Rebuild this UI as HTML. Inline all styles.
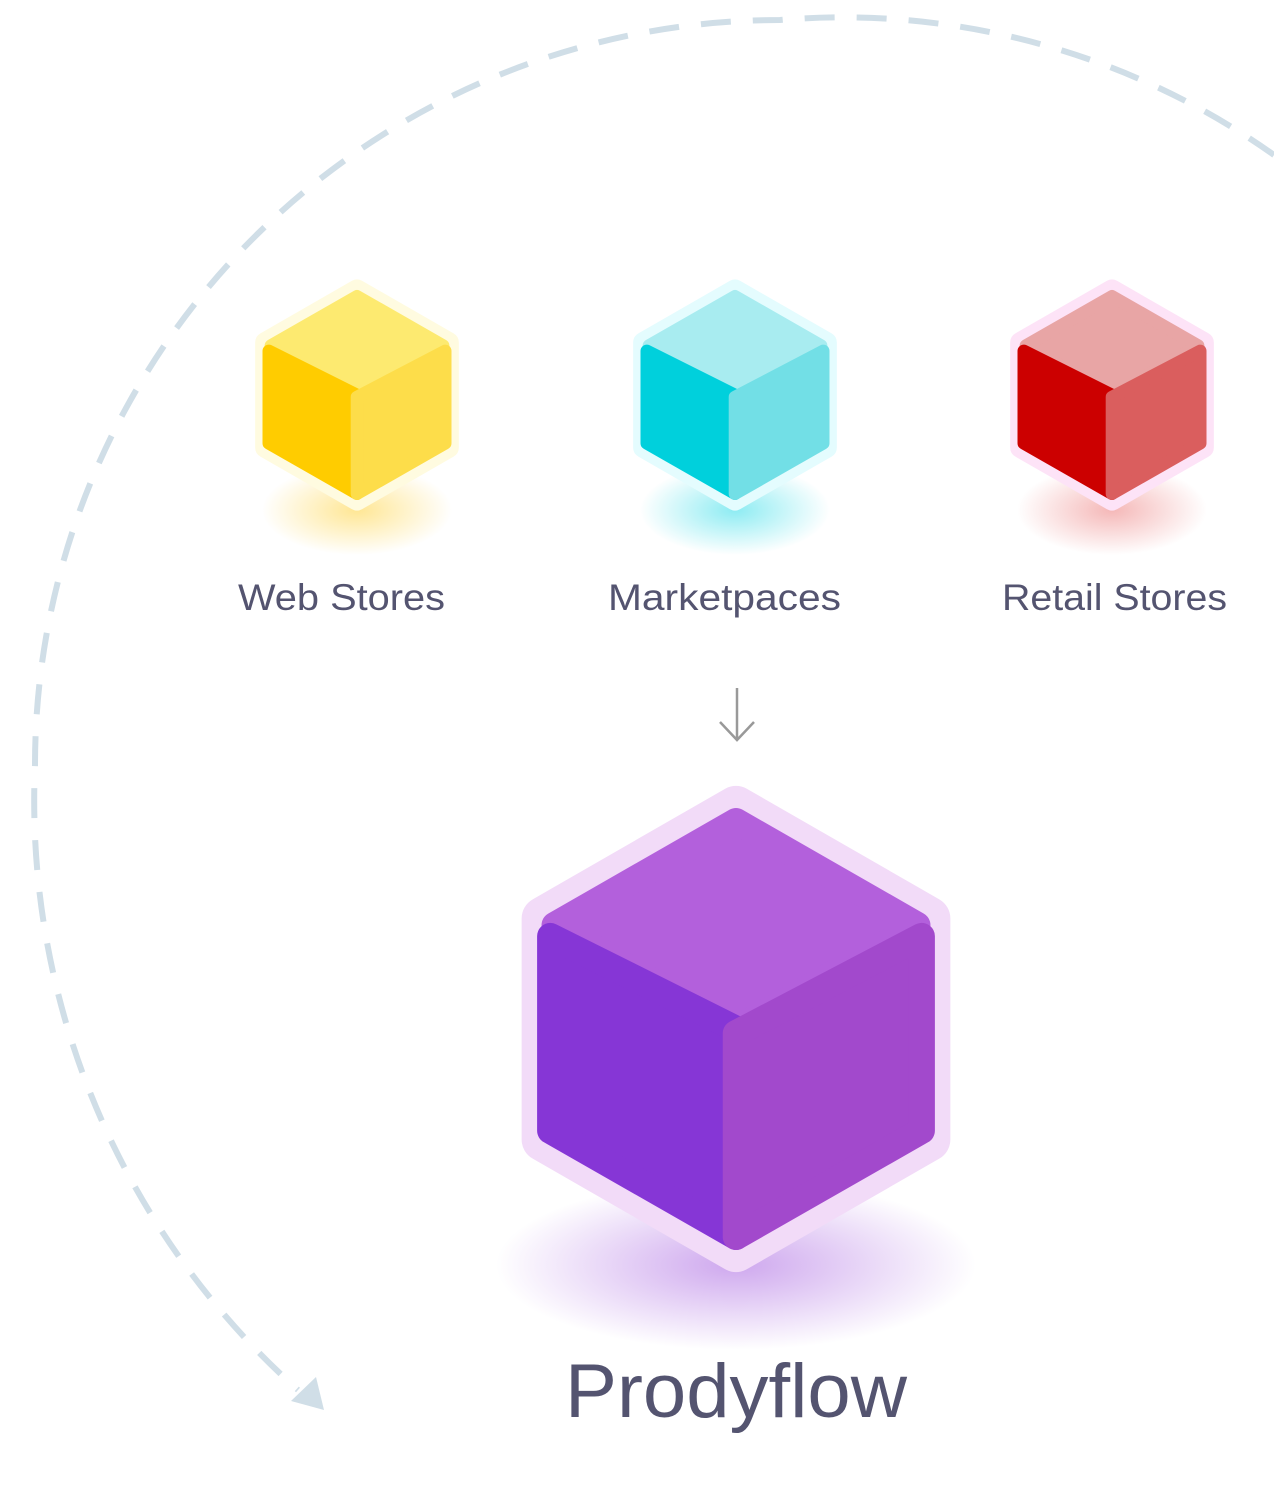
<!DOCTYPE html>
<html><head><meta charset="utf-8"><style>
html,body{margin:0;padding:0;background:#fff;}
svg{display:block;}
text{font-family:"Liberation Sans",sans-serif;fill:#545470;}
</style></head><body>
<svg width="1274" height="1492" viewBox="0 0 1274 1492" xmlns="http://www.w3.org/2000/svg">
<defs>
<radialGradient id="gy"><stop offset="0" stop-color="#ffd23c" stop-opacity="0.55"/><stop offset="1" stop-color="#ffd23c" stop-opacity="0"/></radialGradient>
<radialGradient id="gc"><stop offset="0" stop-color="#30dce8" stop-opacity="0.55"/><stop offset="1" stop-color="#30dce8" stop-opacity="0"/></radialGradient>
<radialGradient id="gr"><stop offset="0" stop-color="#e86060" stop-opacity="0.45"/><stop offset="1" stop-color="#e86060" stop-opacity="0"/></radialGradient>
<radialGradient id="gp"><stop offset="0" stop-color="#a660e0" stop-opacity="0.55"/><stop offset="1" stop-color="#a660e0" stop-opacity="0"/></radialGradient>
</defs>
<path d="M1274,155 A745 745 0 0 0 780 20 A745 745 0 0 0 35 765 A790 790 0 0 0 298 1390" fill="none" stroke="#d0dee7" stroke-width="6" stroke-dasharray="30 22"/>
<polygon points="291,1401 324,1410 316,1377" fill="#d0dee7"/>

<ellipse cx="357" cy="510" rx="95" ry="45" fill="url(#gy)"/>
<ellipse cx="735" cy="510" rx="95" ry="45" fill="url(#gc)"/>
<ellipse cx="1112" cy="510" rx="95" ry="45" fill="url(#gr)"/>
<ellipse cx="736" cy="1265" rx="240" ry="85" fill="url(#gp)"/>

<g transform="translate(357,395) scale(1.05)">
<polygon points="0,-100 87,-50 87,50 0,100 -87,50 -87,-50" fill="#fffbe0" stroke="#fffbe0" stroke-width="20" stroke-linejoin="round"/>
<polygon points="0,-94 82,-47 0,0 -82,-47" fill="#fdea70" stroke="#fdea70" stroke-width="12" stroke-linejoin="round"/>
<polygon points="-84,-42 0,0 0,94 -84,46" fill="#ffcc00" stroke="#ffcc00" stroke-width="12" stroke-linejoin="round"/>
<polygon points="0,2 84,-42 84,46 0,94" fill="#fddd4a" stroke="#fddd4a" stroke-width="12" stroke-linejoin="round"/>
</g>
<g transform="translate(735,395) scale(1.05)">
<polygon points="0,-100 87,-50 87,50 0,100 -87,50 -87,-50" fill="#e4fcfe" stroke="#e4fcfe" stroke-width="20" stroke-linejoin="round"/>
<polygon points="0,-94 82,-47 0,0 -82,-47" fill="#a8ecf0" stroke="#a8ecf0" stroke-width="12" stroke-linejoin="round"/>
<polygon points="-84,-42 0,0 0,94 -84,46" fill="#00d0dc" stroke="#00d0dc" stroke-width="12" stroke-linejoin="round"/>
<polygon points="0,2 84,-42 84,46 0,94" fill="#72dfe6" stroke="#72dfe6" stroke-width="12" stroke-linejoin="round"/>
</g>
<g transform="translate(1112,395) scale(1.05)">
<polygon points="0,-100 87,-50 87,50 0,100 -87,50 -87,-50" fill="#fde3f7" stroke="#fde3f7" stroke-width="20" stroke-linejoin="round"/>
<polygon points="0,-94 82,-47 0,0 -82,-47" fill="#e8a5a5" stroke="#e8a5a5" stroke-width="12" stroke-linejoin="round"/>
<polygon points="-84,-42 0,0 0,94 -84,46" fill="#cc0000" stroke="#cc0000" stroke-width="12" stroke-linejoin="round"/>
<polygon points="0,2 84,-42 84,46 0,94" fill="#da5e5e" stroke="#da5e5e" stroke-width="12" stroke-linejoin="round"/>
</g>
<g transform="translate(736,1029) scale(2.21)">
<polygon points="0,-100 87,-50 87,50 0,100 -87,50 -87,-50" fill="#f2dbf8" stroke="#f2dbf8" stroke-width="20" stroke-linejoin="round"/>
<polygon points="0,-94 82,-47 0,0 -82,-47" fill="#b360dc" stroke="#b360dc" stroke-width="12" stroke-linejoin="round"/>
<polygon points="-84,-42 0,0 0,94 -84,46" fill="#8636d6" stroke="#8636d6" stroke-width="12" stroke-linejoin="round"/>
<polygon points="0,2 84,-42 84,46 0,94" fill="#a249cc" stroke="#a249cc" stroke-width="12" stroke-linejoin="round"/>
</g>

<text x="238" y="610" font-size="37" textLength="207" lengthAdjust="spacingAndGlyphs">Web Stores</text>
<text x="608" y="610" font-size="37" textLength="233" lengthAdjust="spacingAndGlyphs">Marketpaces</text>
<text x="1002" y="610" font-size="37" textLength="225" lengthAdjust="spacingAndGlyphs">Retail Stores</text>
<text x="565" y="1417" font-size="76" textLength="342" lengthAdjust="spacingAndGlyphs">Prodyflow</text>

<path d="M737,688 V740 M720,722 L737,740 L754,722" fill="none" stroke="#999" stroke-width="2.5"/>
</svg>
</body></html>
